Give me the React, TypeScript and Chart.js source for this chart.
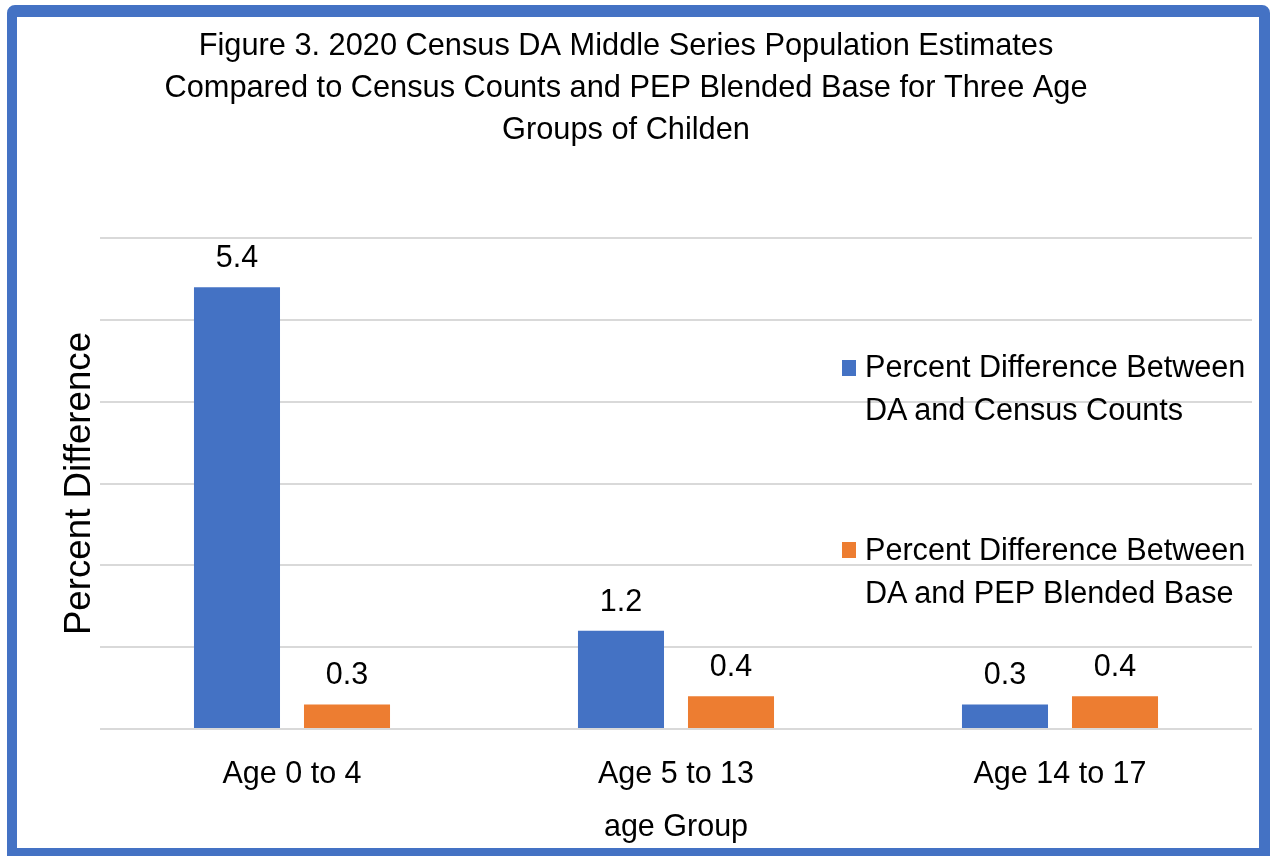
import React, { useEffect, useRef } from "react";
import { Chart, registerables } from "chart.js";

Chart.register(...registerables);

const categories = ["Age 0 to 4", "Age 5 to 13", "Age 14 to 17"];
const censusCountsDiff = [5.4, 1.2, 0.3];
const pepBlendedDiff = [0.3, 0.4, 0.4];
const seriesNames = [
  ["Percent Difference Between", "DA and Census Counts"],
  ["Percent Difference Between", "DA and PEP Blended Base"],
];
const titleLines = [
  "Figure 3. 2020 Census DA Middle Series Population Estimates",
  "Compared to Census Counts and PEP Blended Base for Three Age",
  "Groups of Childen",
];
const yTitle = "Percent Difference";
const xTitle = "age Group";

const BLUE = "#4472C4";
const ORANGE = "#ED7D31";
const FONT = '"Liberation Sans", Arial, Helvetica, sans-serif';

const dataLabelPlugin = {
  id: "dataLabels",
  afterDatasetsDraw(chart: any) {
    const ctx = chart.ctx;
    ctx.save();
    ctx.font = `30.5px ${FONT}`;
    ctx.fillStyle = "#000";
    ctx.textAlign = "center";
    ctx.textBaseline = "alphabetic";
    chart.data.datasets.forEach((ds: any, i: number) => {
      const meta = chart.getDatasetMeta(i);
      meta.data.forEach((bar: any, j: number) => {
        const v = ds.data[j];
        ctx.fillText(Number(v).toFixed(1), bar.x, bar.y - 20);
      });
    });
    ctx.restore();
  },
};

export default function App() {
  const ref = useRef<HTMLCanvasElement | null>(null);

  useEffect(() => {
    if (!ref.current) return;
    const chart = new Chart(ref.current, {
      type: "bar",
      data: {
        labels: categories,
        datasets: [
          {
            label: seriesNames[0].join(" "),
            data: censusCountsDiff,
            backgroundColor: BLUE,
            borderWidth: 0,
            categoryPercentage: 0.573,
            barPercentage: 0.782,
          },
          {
            label: seriesNames[1].join(" "),
            data: pepBlendedDiff,
            backgroundColor: ORANGE,
            borderWidth: 0,
            categoryPercentage: 0.573,
            barPercentage: 0.782,
          },
        ],
      },
      options: {
        responsive: false,
        animation: false,
        layout: { padding: { left: 0, right: 22, top: 0, bottom: 10.1 } },
        plugins: {
          legend: { display: false },
          tooltip: { enabled: false },
          title: {
            display: true,
            text: titleLines,
            color: "#000",
            font: { family: FONT, size: 30.75, weight: "normal", lineHeight: 1.35 },
            padding: { top: 26.25, bottom: 87.25 },
          },
        },
        scales: {
          x: {
            grid: { display: false, drawTicks: false },
            border: { display: false },
            afterFit: (scale: any) => {
              scale.height = 116.9;
            },
            ticks: {
              color: "#000",
              padding: 27.7,
              font: { family: FONT, size: 30.5, lineHeight: 1.2 },
            },
            title: {
              display: true,
              text: xTitle,
              color: "#000",
              font: { family: FONT, size: 30.5, lineHeight: 1.2 },
              padding: { top: 16, bottom: 0 },
            },
          },
          y: {
            min: 0,
            max: 6,
            ticks: { display: false, stepSize: 1 },
            grid: { color: "#D9D9D9", lineWidth: 2, drawTicks: false },
            border: { display: false },
            afterFit: (scale: any) => {
              scale.width = 100;
            },
            title: {
              display: true,
              text: yTitle,
              color: "#000",
              font: { family: FONT, size: 36.7, lineHeight: 1.0 },
              padding: { top: 61.2, bottom: 2.1 },
            },
          },
        },
      },
      plugins: [dataLabelPlugin],
    });
    return () => chart.destroy();
  }, []);

  const legendText: React.CSSProperties = {
    position: "absolute",
    left: 865,
    fontFamily: FONT,
    fontSize: "30.6px",
    lineHeight: "42.5px",
    color: "#000",
    whiteSpace: "nowrap",
  };

  return (
    <div>
      <canvas
        ref={ref}
        width={1274}
        height={856}
        style={{ position: "absolute", left: 0, top: 0, width: 1274, height: 856, display: "block", background: "#fff" }}
      />
      <div style={{ position: "absolute", left: 842, top: 360, width: 14, height: 16, background: BLUE }} />
      <div style={{ ...legendText, top: 345 }}>
        {seriesNames[0][0]}
        <br />
        {seriesNames[0][1]}
      </div>
      <div style={{ position: "absolute", left: 842, top: 542, width: 14, height: 16, background: ORANGE }} />
      <div style={{ ...legendText, top: 528 }}>
        {seriesNames[1][0]}
        <br />
        {seriesNames[1][1]}
      </div>
      <div
        style={{
          position: "absolute",
          left: 7,
          top: 5,
          width: 1263,
          height: 851,
          boxSizing: "border-box",
          borderStyle: "solid",
          borderColor: BLUE,
          borderWidth: "12px 11px 8px 10px",
          borderRadius: "8px 8px 0 0",
          pointerEvents: "none",
        }}
      />
    </div>
  );
}
